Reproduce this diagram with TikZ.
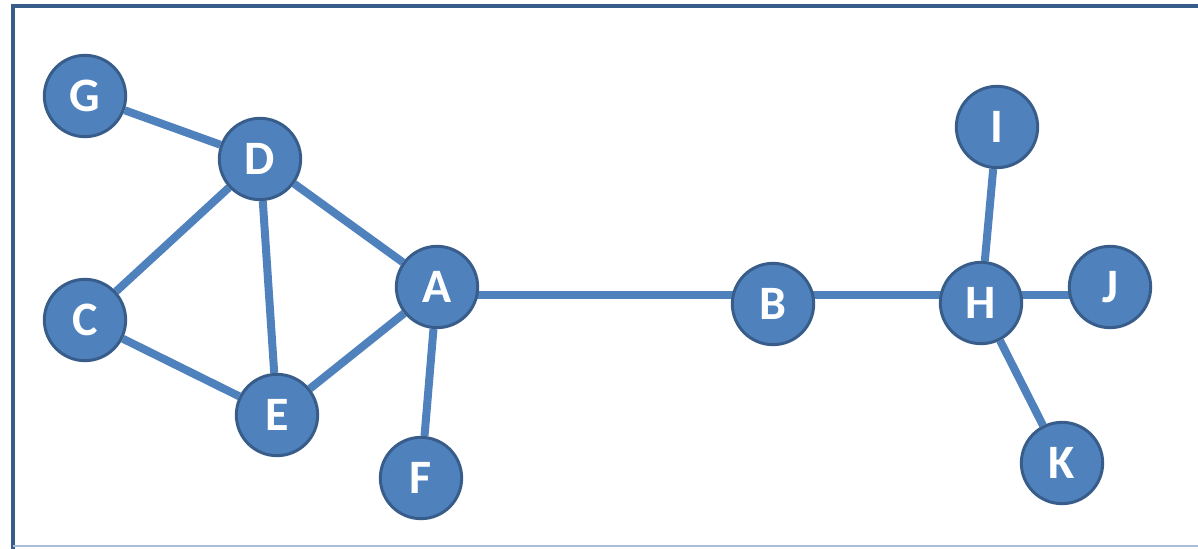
\documentclass[tikz,border=0pt]{standalone}
\usepackage{fontspec}
\setmainfont{Carlito}
\usepackage{tikz}
\usetikzlibrary{backgrounds}

\definecolor{nodefill}{RGB}{79,129,189}
\definecolor{nodeline}{RGB}{56,93,138}
\definecolor{framelight}{RGB}{170,190,218}

\begin{document}
\begin{tikzpicture}[x=0.75pt,y=0.75pt,yscale=-1,xscale=1,
    vertex/.style={circle,fill=nodefill,draw=nodeline,line width=2.25pt,minimum size=61pt,inner sep=0pt,text=white,font=\fontsize{36}{40}\selectfont\bfseries},
    link/.style={draw=nodefill,line width=6pt}]

    \useasboundingbox (0,0) rectangle (1198,549);
    \draw [nodeline,line width=2.4pt] (1198,6) -- (13,6) -- (13,549);
    \draw [framelight,line width=1.5pt] (13,546) -- (1198,546);

    \node [vertex] (G) at (85,96) {G};
    \node [vertex] (D) at (260,159) {D};
    \node [vertex] (C) at (85,320) {C};
    \node [vertex] (E) at (277,415) {E};
    \node [vertex] (A) at (437,287) {A};
    \node [vertex] (F) at (421,478) {F};
    \node [vertex] (B) at (773,304) {B};
    \node [vertex] (H) at (981,303) {H};
    \node [vertex] (I) at (997,127) {I};
    \node [vertex] (J) at (1110,287) {J};
    \node [vertex] (K) at (1062,463) {K};

    \coordinate (axis) at (0,295);

    \begin{scope}[on background layer]
        \foreach \a/\b in {G/D,D/C,D/E,D/A,C/E,E/A,A/F,H/I,H/K}
            \draw [link] (\a) -- (\b);
        \draw [link] (A |- axis) -- (B |- axis) -- (H |- axis) -- (J |- axis);
    \end{scope}

\end{tikzpicture}
\end{document}
